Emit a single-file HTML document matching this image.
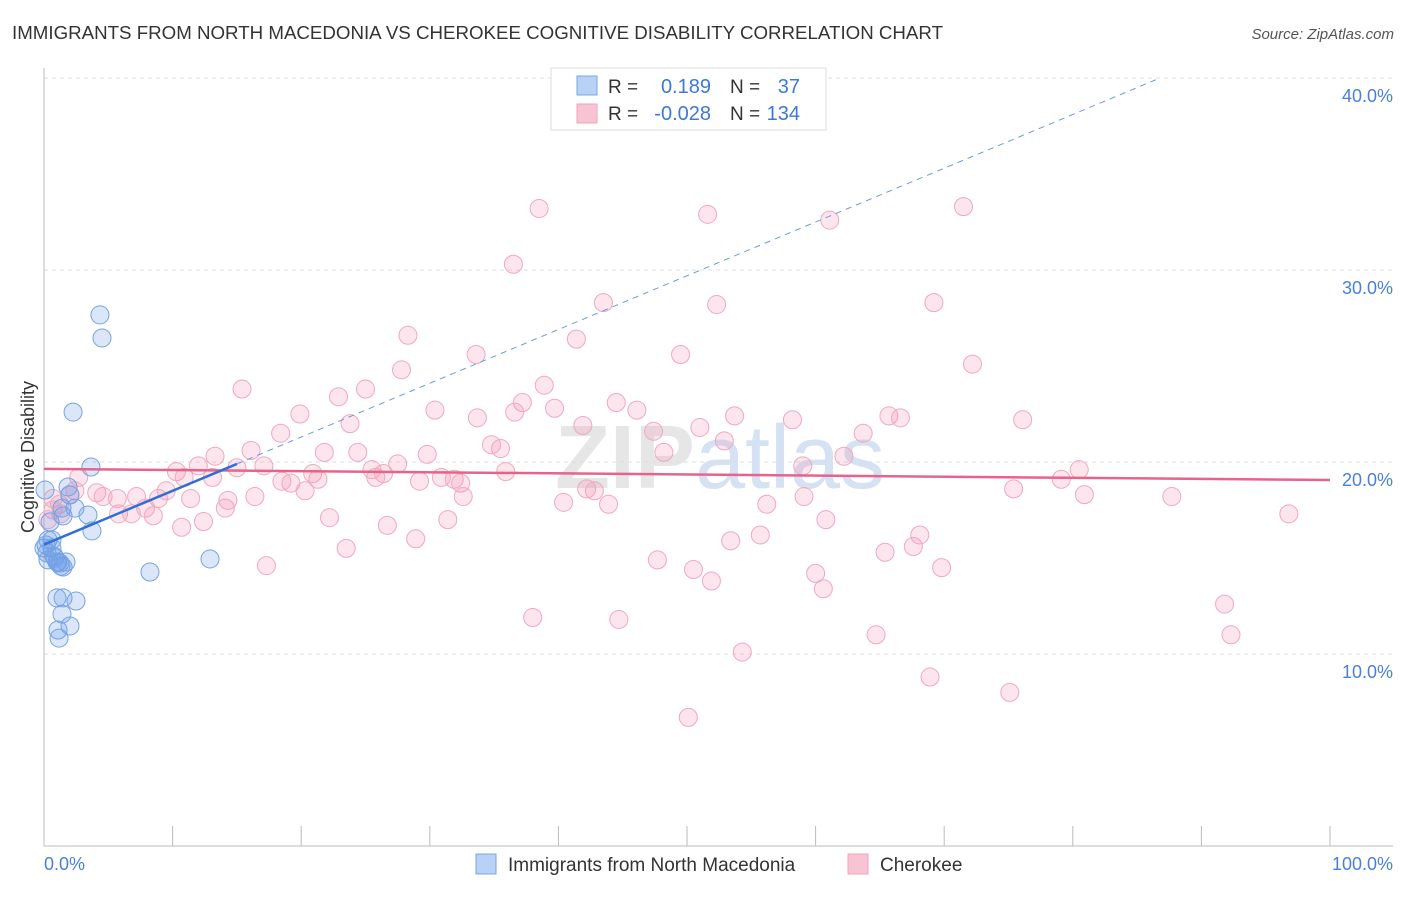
<!DOCTYPE html>
<html><head><meta charset="utf-8"><style>
body{margin:0;background:#fff;font-family:"Liberation Sans",sans-serif;}
svg text{font-family:"Liberation Sans",sans-serif;}
</style></head><body>
<svg id="chart" width="1406" height="892" xmlns="http://www.w3.org/2000/svg">
<text x="12" y="39" font-size="18" fill="#333" textLength="931" lengthAdjust="spacingAndGlyphs">IMMIGRANTS FROM NORTH MACEDONIA VS CHEROKEE COGNITIVE DISABILITY CORRELATION CHART</text>
<text x="1394" y="39" font-size="15" fill="#555" text-anchor="end" font-style="italic">Source: ZipAtlas.com</text>
<text x="720" y="488" font-size="90" fill="#e6e6e6" text-anchor="middle" font-family="Liberation Serif" font-weight="bold">ZIP<tspan fill="#d4e2f4" font-family="Liberation Sans" font-weight="normal">atlas</tspan></text>
<g id="grid"></g><g id="axes"></g><g id="marks"></g>
<text transform="translate(34,457) rotate(-90)" font-size="18" fill="#333" text-anchor="middle">Cognitive Disability</text>
<text x="44" y="870" font-size="18" fill="#4a7fd8">0.0%</text>
<text x="1393" y="870" font-size="18" fill="#4a7fd8" text-anchor="end">100.0%</text>
<g>
<rect x="551" y="68" width="275" height="62" fill="#fff" stroke="#ddd"/>
<rect x="577" y="76" width="20" height="19" fill="#b8d2f5" stroke="#7aa6e6"/>
<rect x="577" y="104" width="20" height="19" fill="#f8c4d3" stroke="#eea4ba"/>
<text x="608" y="93" font-size="19" fill="#333">R =</text>
<text x="711" y="93" font-size="20" fill="#3c78d8" text-anchor="end">0.189</text>
<text x="730" y="93" font-size="19" fill="#333">N =</text>
<text x="800" y="93" font-size="20" fill="#3c78d8" text-anchor="end">37</text>
<text x="608" y="120" font-size="19" fill="#333">R =</text>
<text x="711" y="120" font-size="20" fill="#3c78d8" text-anchor="end">-0.028</text>
<text x="730" y="120" font-size="19" fill="#333">N =</text>
<text x="800" y="120" font-size="20" fill="#3c78d8" text-anchor="end">134</text>
</g>
<g>
<rect x="476" y="854" width="20" height="20" fill="#b8d2f5" stroke="#7aa6e6"/>
<text x="508" y="871" font-size="19" fill="#333">Immigrants from North Macedonia</text>
<rect x="848" y="854" width="20" height="20" fill="#f8c4d3" stroke="#eea4ba"/>
<text x="880" y="871" font-size="19" fill="#333">Cherokee</text>
</g>
</svg>
<script>
const yTicks=[10,20,30,40];
const yTickLabels=["10.0%","20.0%","30.0%","40.0%"];
const xTicks=[0,10,20,30,40,50,60,70,80,90,100];
const blueX=[4.35,4.51,2.26,3.65,1.87,2.02,1.40,2.41,3.42,1.48,3.73,0.08,0.47,0.31,0.16,0.62,0.86,1.24,1.48,1.01,1.71,8.24,12.91,1.01,1.48,2.49,1.40,1.09,2.02,1.17,0.31,0.23,0.78,0.0,0.62,1.32,1.09];
const blueY=[27.66,26.46,22.6,19.74,18.7,18.28,17.6,17.6,17.24,17.19,16.41,18.54,16.88,15.94,15.68,15.52,15.0,14.74,14.53,14.79,14.79,14.27,14.95,12.92,12.92,12.76,12.08,11.25,11.46,10.83,14.9,15.26,15.1,15.52,15.94,14.58,14.79];
const pinkX=[38.5,51.6,61.1,71.5,36.5,43.5,52.3,69.2,28.3,41.4,33.6,49.5,72.2,15.4,27.8,22.9,25.0,38.9,44.5,37.2,39.7,30.4,19.9,33.7,36.6,53.7,46.1,58.2,65.7,66.6,76.1,23.8,41.9,51.0,47.4,63.7,18.4,34.8,52.9,16.1,13.3,24.4,29.8,21.8,35.5,62.2,48.2,12.0,10.3,15.0,17.1,25.5,27.5,20.9,35.9,59.0,80.5,10.9,13.1,18.5,19.2,21.3,25.8,26.4,29.2,30.9,31.9,32.4,79.1,75.4,2.7,2.4,0.7,1.2,2.0,4.1,4.6,5.7,7.2,8.9,9.5,11.4,16.4,20.3,42.2,42.8,32.6,80.9,87.7,59.1,0.7,1.3,0.3,5.8,6.8,7.9,8.5,14.1,14.3,56.2,40.4,43.9,96.8,10.7,12.4,22.2,31.4,26.7,60.8,55.7,53.4,28.9,23.5,47.7,65.4,68.1,67.6,17.3,50.5,51.9,60.0,69.8,60.6,38.0,44.7,64.7,91.8,92.3,54.3,68.9,75.1,50.1];
const pinkY=[33.2,32.9,32.6,33.3,30.3,28.3,28.2,28.3,26.6,26.4,25.6,25.6,25.1,23.8,24.8,23.4,23.8,24.0,23.1,23.1,22.8,22.7,22.5,22.3,22.6,22.4,22.7,22.2,22.4,22.3,22.2,22.0,21.9,21.8,21.6,21.5,21.5,20.9,21.1,20.6,20.3,20.5,20.4,20.5,20.7,20.3,20.5,19.8,19.5,19.7,19.8,19.6,19.9,19.4,19.5,19.8,19.6,19.2,19.2,19.0,18.9,19.1,19.2,19.4,19.0,19.2,19.1,18.9,19.1,18.6,19.2,18.5,18.1,17.8,18.3,18.4,18.2,18.1,18.2,18.1,18.5,18.1,18.2,18.5,18.6,18.5,18.2,18.3,18.2,18.2,17.5,17.3,17.0,17.3,17.3,17.6,17.2,17.6,18.0,17.8,17.9,17.8,17.3,16.6,16.9,17.1,17.0,16.7,17.0,16.2,15.9,16.0,15.5,14.9,15.3,16.2,15.6,14.6,14.4,13.8,14.2,14.5,13.4,11.9,11.8,11.0,12.6,11.0,10.1,8.8,8.0,6.7];
const blueTrend=[15.7,0.28];
const pinkTrend=[19.64,-0.0058];
const NS="http://www.w3.org/2000/svg";
const sx=v=>44+v*12.86, sy=v=>846-v*19.2;
function mk(tag,attrs,parent){const e=document.createElementNS(NS,tag);for(const k in attrs)e.setAttribute(k,attrs[k]);parent.appendChild(e);return e;}
const grid=document.getElementById('grid'),axes=document.getElementById('axes'),marks=document.getElementById('marks');
yTicks.forEach((t,i)=>{
 const l=mk('line',{x1:44,x2:1393,y1:sy(t),y2:sy(t),stroke:'#ddd','stroke-dasharray':'4,4'},grid);
 
 
 const tx=mk('text',{x:1393,y:sy(t)+24,'font-size':18,fill:'#4a7fd8','text-anchor':'end'},grid);
 tx.textContent=yTickLabels[i];
 
 
});
const ya=mk('line',{x1:44,x2:44,y1:68,y2:846,stroke:'#bbb'},axes);


const xa=mk('line',{x1:44,x2:1393,y1:846,y2:846,stroke:'#bbb'},axes);


xTicks.forEach(t=>{
 const l=mk('line',{x1:sx(t),x2:sx(t),y1:826,y2:846,stroke:'#bbb'},axes);
 
 
});
function dots(xs,ys,fill,stroke,name){xs.forEach((x,i)=>{
 const c=mk('circle',{cx:sx(x),cy:sy(ys[i]),r:9,fill:fill,stroke:stroke,'stroke-width':1},marks);
 
 
});}
dots(pinkX,pinkY,'rgba(242,150,178,0.25)','#f0a8be','cherokee-point');
dots(blueX,blueY,'rgba(110,160,230,0.25)','#74a2e2','macedonia-point');
const pl=mk('line',{x1:sx(0),y1:sy(pinkTrend[0]),x2:sx(100),y2:sy(pinkTrend[0]+pinkTrend[1]*100),stroke:'#e8638c','stroke-width':2.5},marks);


const bl=mk('line',{x1:sx(0),y1:sy(blueTrend[0]),x2:sx(15),y2:sy(blueTrend[0]+blueTrend[1]*15),stroke:'#2f6fd6','stroke-width':2.5},marks);


const xe=(40-blueTrend[0])/blueTrend[1];
const bd=mk('line',{x1:sx(15),y1:sy(blueTrend[0]+blueTrend[1]*15),x2:sx(xe),y2:sy(40),stroke:'#6a9ae0','stroke-width':1,'stroke-dasharray':'6,5'},marks);


</script>
</body></html>
